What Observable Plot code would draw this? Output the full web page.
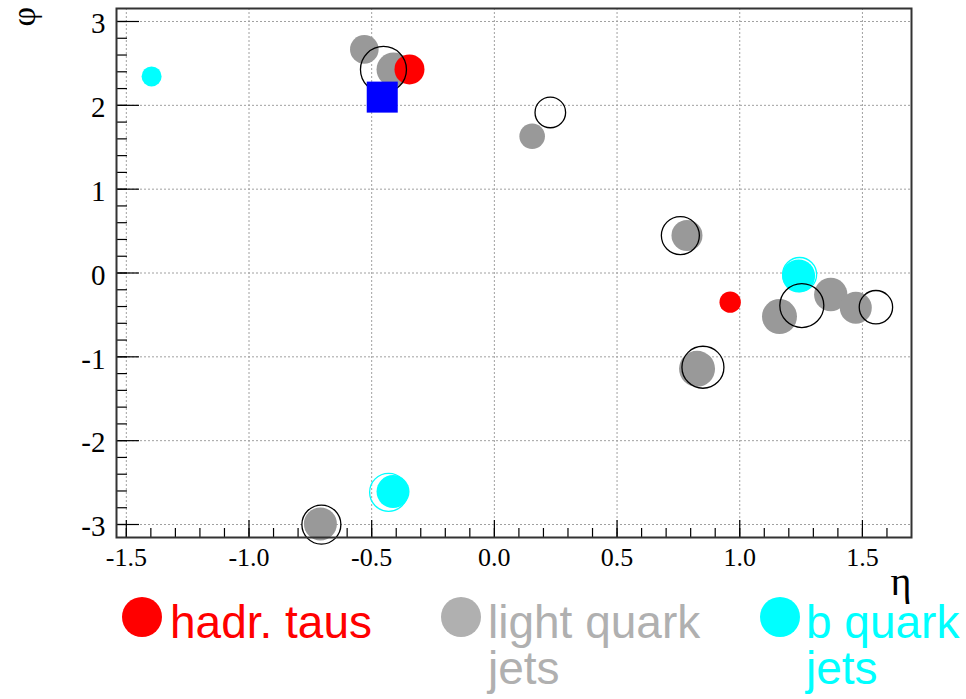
<!DOCTYPE html>
<html><head><meta charset="utf-8">
<script src="https://cdn.jsdelivr.net/npm/d3@7"></script>
<script src="https://cdn.jsdelivr.net/npm/@observablehq/plot@0.6"></script>
<style>
body{margin:0;background:#fff;}
#wrap{position:relative;width:966px;height:699px;overflow:hidden;background:#fff;}
#wrap svg{position:absolute;left:0;top:0;}
.legdot{position:absolute;width:40px;height:40px;border-radius:50%;}
.legtxt{position:absolute;font-family:"Liberation Sans",Arial,sans-serif;font-size:46px;line-height:46px;white-space:normal;}
</style></head><body><div id="wrap"></div>
<script>
// hadronic taus
const tauEta = [-0.346, 0.961];
const tauPhi = [2.428, -0.348];
const tauSize = [15, 10.7];
// light quark jets
const lightEta = [-0.530, -0.411, 0.154, 0.785, 1.162, 1.371, 1.473, 0.826, -0.709];
const lightPhi = [2.667, 2.428, 1.632, 0.447, -0.519, -0.257, -0.415, -1.143, -2.993];
const lightSize = [14.3, 17, 12.8, 15.5, 17.5, 16.7, 16, 18, 16.5];
// b quark jets
const bEta = [-1.397, 1.240, -0.413];
const bPhi = [2.345, -0.036, -2.607];
const bSize = [10, 16.5, 16.5];
// b quark rings
const bRingEta = [1.244, -0.431];
const bRingPhi = [-0.018, -2.616];
const bRingSize = [17, 19];
// open (black) circles
const openEta = [-0.452, 0.228, 0.758, 1.253, 1.555, 0.850, -0.705];
const openPhi = [2.428, 1.915, 0.447, -0.388, -0.408, -1.124, -3.001];
const openSize = [23, 15.3, 19, 22, 16.7, 21, 19.5];
// blue square
const sqEta = [-0.457];
const sqPhi = [2.098];
const sqSize = [17.5];

const xTicks = [-1.5, -1.0, -0.5, 0.0, 0.5, 1.0, 1.5];
const yTicks = [-3, -2, -1, 0, 1, 2, 3];
const xMinor = d3.range(-15, 17).map(i => i / 10);
const yMinor = d3.range(-15, 16).map(i => i / 5);

const rows = (e, p, s) => e.map((v, i) => ({eta: v, phi: p[i], size: s[i]}));

const W = 966, H = 699, mL = 116, mR = 55, mT = 8, mB = 162;
const innerW = W - mL - mR, innerH = H - mT - mB;

const chart = Plot.plot({
  width: W, height: H,
  marginLeft: mL, marginRight: mR, marginTop: mT, marginBottom: mB,
  style: {fontFamily: "'Liberation Serif', 'Times New Roman', serif", background: "transparent", color: "#000"},
  x: {domain: [-1.54, 1.70]},
  y: {domain: [-3.155, 3.155]},
  r: {type: "identity"},
  marks: [
    Plot.ruleX(xTicks, {x: d => d, stroke: "#a0a0a0", strokeWidth: 1, strokeDasharray: "2,2"}),
    Plot.ruleY(yTicks, {y: d => d, stroke: "#a0a0a0", strokeWidth: 1, strokeDasharray: "2,2"}),
    Plot.tickX(xMinor, {x: d => d, insetTop: innerH - 9, stroke: "#000", strokeWidth: 1.2}),
    Plot.tickX(xTicks, {x: d => d, insetTop: innerH - 17, stroke: "#000", strokeWidth: 1.2}),
    Plot.tickY(yMinor, {y: d => d, insetRight: innerW - 11, stroke: "#000", strokeWidth: 1.2}),
    Plot.tickY(yTicks, {y: d => d, insetRight: innerW - 23, stroke: "#000", strokeWidth: 1.2}),
    Plot.axisX(xTicks, {tickSize: 0, tickPadding: 10, tickFormat: d => d.toFixed(1), label: null, fill: "#000", fontSize: 26}),
    Plot.axisY(yTicks, {tickSize: 0, tickPadding: 11, tickFormat: d => String(d), label: null, fill: "#000", dy: 2.5, fontSize: 29}),
    Plot.dot(rows(lightEta, lightPhi, lightSize), {x: "eta", y: "phi", r: "size", fill: "#999999"}),
    Plot.dot(rows(bEta, bPhi, bSize), {x: "eta", y: "phi", r: "size", fill: "#00ffff"}),
    Plot.dot(rows(bRingEta, bRingPhi, bRingSize), {x: "eta", y: "phi", r: "size", fill: "none", stroke: "#00ffff", strokeWidth: 1.3}),
    Plot.dot(rows(tauEta, tauPhi, tauSize), {x: "eta", y: "phi", r: "size", fill: "#ff0000"}),
    Plot.dot(rows(openEta, openPhi, openSize), {x: "eta", y: "phi", r: "size", fill: "none", stroke: "#000", strokeWidth: 1.3}),
    Plot.dot(rows(sqEta, sqPhi, sqSize), {x: "eta", y: "phi", r: "size", symbol: "square", fill: "#0000ff"}),
    Plot.frame({stroke: "#333", strokeWidth: 2}),
    Plot.text(["η"], {frameAnchor: "bottom-right", text: d => d, textAnchor: "end", lineAnchor: "bottom", dy: 57, fontSize: 40, fill: "#000"}),
    Plot.text(["φ"], {frameAnchor: "top-left", text: d => d, rotate: -90, textAnchor: "start", lineAnchor: "top", dx: -106, dy: 18, fontSize: 34, fill: "#000"})
  ]
});
const wrap = document.getElementById("wrap");
wrap.appendChild(chart);

// legend
const legend = [
  {label: "hadr. taus", dot: "#ff0000", color: "#ff0000", dotX: 122, txtX: 170, w: 260},
  {label: "light quark jets", dot: "#b0b0b0", color: "#b0b0b0", dotX: 441, txtX: 488, w: 232},
  {label: "b quark jets", dot: "#00ffff", color: "#00ffff", dotX: 760, txtX: 806, w: 160}
];
for (const l of legend) {
  const d = document.createElement("div");
  d.className = "legdot";
  d.style.left = l.dotX + "px"; d.style.top = "597px"; d.style.background = l.dot;
  wrap.appendChild(d);
  const t = document.createElement("div");
  t.className = "legtxt";
  t.style.left = l.txtX + "px"; t.style.top = "599px"; t.style.width = l.w + "px"; t.style.color = l.color;
  t.textContent = l.label;
  wrap.appendChild(t);
}
</script>
</body></html>
